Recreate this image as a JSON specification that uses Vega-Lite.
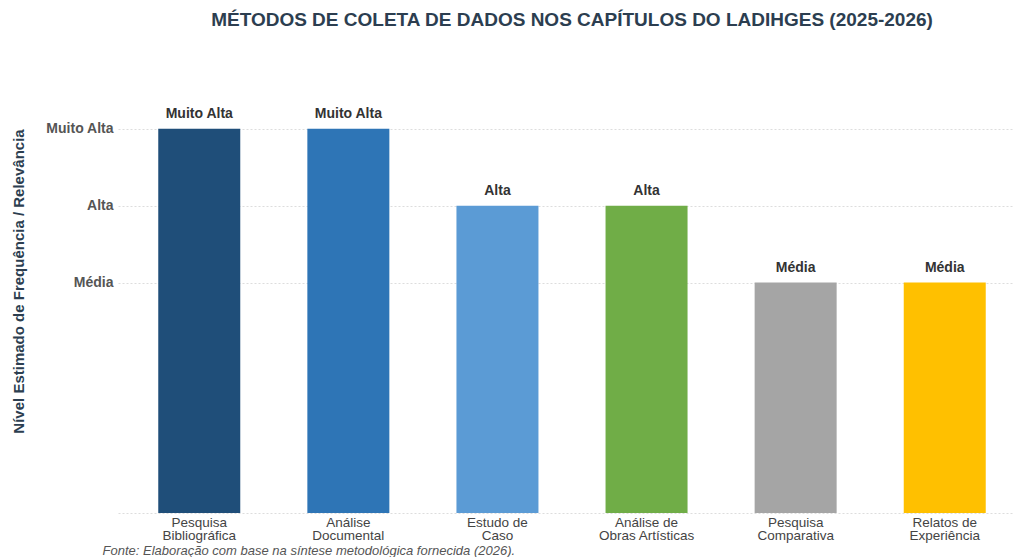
{
  "$schema": "https://vega.github.io/schema/vega-lite/v6.json",
  "width": 908,
  "height": 461,
  "autosize": {"type": "none"},
  "padding": {"left": 118, "top": 52, "right": 0, "bottom": 44},
  "background": "white",
  "config": {
    "font": "Liberation Sans",
    "view": {"stroke": null}
  },
  "title": {
    "text": "MÉTODOS DE COLETA DE DADOS NOS CAPÍTULOS DO LADIHGES (2025-2026)",
    "fontSize": 19,
    "fontWeight": "bold",
    "color": "#2c3e50",
    "anchor": "middle",
    "offset": 22
  },
  "data": {
    "values": [
      {"metodo": "Pesquisa\nBibliográfica", "valor": 5, "nivel": "Muito Alta"},
      {"metodo": "Análise\nDocumental", "valor": 5, "nivel": "Muito Alta"},
      {"metodo": "Estudo de\nCaso", "valor": 4, "nivel": "Alta"},
      {"metodo": "Análise de\nObras Artísticas", "valor": 4, "nivel": "Alta"},
      {"metodo": "Pesquisa\nComparativa", "valor": 3, "nivel": "Média"},
      {"metodo": "Relatos de\nExperiência", "valor": 3, "nivel": "Média"}
    ]
  },
  "encoding": {
    "x": {
      "field": "metodo",
      "type": "nominal",
      "sort": null,
      "scale": {"paddingInner": 0.45, "paddingOuter": 0.27},
      "axis": {
        "title": "Fonte: Elaboração com base na síntese metodológica fornecida (2026).",
        "titleFontStyle": "italic",
        "titleFontWeight": "normal",
        "titleFontSize": 13,
        "titleColor": "#555555",
        "titleAnchor": null,
        "titleAlign": "left",
        "titleX": -16,
        "titleY": 37,
        "titleBaseline": "middle",
        "labelExpr": "split(datum.label, '\\n')",
        "labelAngle": 0,
        "labelFontSize": 13.5,
        "labelColor": "#444444",
        "labelLineHeight": 13.5,
        "labelPadding": 2,
        "ticks": false,
        "domain": false,
        "grid": false
      }
    },
    "y": {
      "field": "valor",
      "type": "quantitative",
      "scale": {"domain": [0, 6]},
      "axis": {
        "title": "Nível Estimado de Frequência / Relevância",
        "titleFontSize": 15,
        "titleFontWeight": "bold",
        "titleColor": "#2c3e50",
        "titleX": -92,
        "titleY": 229,
        "titleAngle": -90,
        "titleBaseline": "bottom",
        "titleAnchor": null,
        "values": [0, 3, 4, 5],
        "labelExpr": "datum.value == 5 ? 'Muito Alta' : datum.value == 4 ? 'Alta' : datum.value == 3 ? 'Média' : ''",
        "labelFontSize": 14,
        "labelFontWeight": "bold",
        "labelColor": "#555555",
        "labelPadding": 5,
        "ticks": false,
        "domain": false,
        "grid": true,
        "gridColor": "#dddddd",
        "gridDash": [2, 2],
        "gridWidth": 1
      }
    }
  },
  "layer": [
    {
      "mark": {"type": "bar"},
      "encoding": {
        "color": {
          "field": "metodo",
          "type": "nominal",
          "sort": null,
          "scale": {
            "domain": ["Pesquisa\nBibliográfica", "Análise\nDocumental", "Estudo de\nCaso", "Análise de\nObras Artísticas", "Pesquisa\nComparativa", "Relatos de\nExperiência"],
            "range": ["#1f4e79", "#2e75b6", "#5b9bd5", "#70ad47", "#a5a5a5", "#ffc000"]
          },
          "legend": null
        }
      }
    },
    {
      "mark": {"type": "text", "dy": -15, "baseline": "middle", "fontSize": 14, "fontWeight": "bold", "color": "#333333"},
      "encoding": {
        "text": {"field": "nivel", "type": "nominal"}
      }
    }
  ]
}
